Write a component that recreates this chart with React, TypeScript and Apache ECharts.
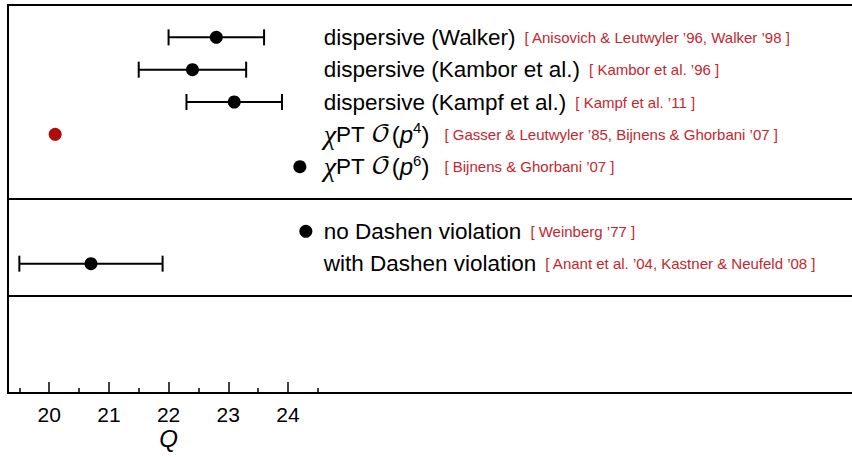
import React, { useEffect, useRef } from "react";
import * as echarts from "echarts";

// ---- data ----
const rowPositions = [1, 2, 3, 4, 5, 7, 8];
const centralValues = [22.8, 22.4, 23.1, 20.1, 24.2, 24.3, 20.7];
const lowerValues: (number | null)[] = [22.0, 21.5, 22.3, null, null, null, 19.5];
const upperValues: (number | null)[] = [23.6, 23.3, 23.9, null, null, null, 21.9];
const pointColors = ["#000", "#000", "#000", "#b00a0a", "#000", "#000", "#000"];
const mainLabels = [
  "dispersive (Walker)",
  "dispersive (Kambor et al.)",
  "dispersive (Kampf et al.)",
  "CHPT4",
  "CHPT6",
  "no Dashen violation",
  "with Dashen violation",
];
const refLabels = [
  "[ Anisovich & Leutwyler ’96, Walker ’98 ]",
  "[ Kambor et al. ’96 ]",
  "[ Kampf et al. ’11 ]",
  "[ Gasser & Leutwyler ’85, Bijnens & Ghorbani ’07 ]",
  "[ Bijnens & Ghorbani ’07 ]",
  "[ Weinberg ’77 ]",
  "[ Anant et al. ’04, Kastner & Neufeld ’08 ]",
];
const dividerRows = [6, 9];
const majorTicks = [20, 21, 22, 23, 24];
const minorTicks = [19.5, 20.5, 21.5, 22.5, 23.5, 24.5];
const axisName = "Q";
const axisNameAt = 22;

const X_MIN = 19.31;
const X_MAX = 33.45;
const LABEL_X = 24.6;
const FONT = "'Liberation Sans', Arial, Helvetica, sans-serif";

function richText(i: number): string {
  const m = mainLabels[i];
  let main: string;
  if (m === "CHPT4" || m === "CHPT6") {
    const pw = m === "CHPT4" ? "4" : "6";
    main = `{chi|χ}{b|PT }{cal|𝒪}{par|(}{p|p}{sup|${pw}}{parEnd|)}`;
  } else {
    main = `{b|${m}}`;
  }
  return `${main}{r|${refLabels[i]}}`;
}

export default function App() {
  const ref = useRef<HTMLDivElement>(null);
  useEffect(() => {
    document.body.style.margin = "0";
    const chart = echarts.init(ref.current!, null, { renderer: "svg" });
    const errData = rowPositions
      .map((r, i) => [lowerValues[i], upperValues[i], r])
      .filter((d) => d[0] !== null);
    const dotData = rowPositions.map((r, i) => ({
      value: [centralValues[i], r],
      itemStyle: { color: pointColors[i], opacity: 1 },
    }));
    const labelData = rowPositions.map((r, i) => [r, i]);
    const rich = {
      b: { fontSize: 22.5, fontFamily: FONT, fill: "#000", lineHeight: 28 },
      par: { fontSize: 24, fontFamily: FONT, fill: "#000", lineHeight: 28 },
      parEnd: { fontSize: 24, fontFamily: FONT, fill: "#000", lineHeight: 28, padding: [0, 6, 0, 0] },
      chi: { fontSize: 28, fontFamily: "'Liberation Serif', 'DejaVu Serif', serif", fontStyle: "italic", fill: "#000", lineHeight: 28 },
      cal: { fontSize: 25, fontFamily: "'DejaVu Math TeX Gyre', 'DejaVu Serif', serif", fill: "#000", lineHeight: 28, padding: [0, 1, 0, 0] },
      p: { fontSize: 24, fontFamily: FONT, fontStyle: "italic", fill: "#000", lineHeight: 28 },
      sup: { fontSize: 15, fontFamily: FONT, fill: "#000", lineHeight: 16, verticalAlign: "top" },
      r: { fontSize: 15, fontFamily: FONT, fill: "#c4262e", lineHeight: 28, padding: [0, 0, 0, 9] },
    };
    const baseAxis = {
      type: "value",
      min: X_MIN,
      max: X_MAX,
      splitLine: { show: false },
    };
    chart.setOption({
      animation: false,
      grid: { left: 8, right: 0, top: 5, bottom: 64 },
      xAxis: [
        {
          ...baseAxis,
          position: "bottom",
          axisLine: { show: true, onZero: false, lineStyle: { color: "#000", width: 2 } },
          axisTick: { show: true, inside: true, length: 11, customValues: majorTicks, lineStyle: { color: "#000", width: 1.5 } },
          axisLabel: { show: true, customValues: majorTicks, fontSize: 21, color: "#000", fontFamily: FONT, margin: 11 },
        },
        {
          ...baseAxis,
          position: "bottom",
          axisLine: { show: true, onZero: false, lineStyle: { color: "#000", width: 2 } },
          axisTick: { show: true, inside: true, length: 5, customValues: minorTicks, lineStyle: { color: "#000", width: 1.5 } },
          axisLabel: { show: false },
        },
        {
          ...baseAxis,
          position: "bottom",
          axisLine: { show: false, onZero: false },
          axisTick: { show: false },
          axisLabel: {
            show: true,
            customValues: [axisNameAt],
            formatter: () => axisName,
            fontSize: 24,
            fontStyle: "italic",
            color: "#000",
            fontFamily: FONT,
            margin: 33,
          },
        },
        {
          ...baseAxis,
          position: "top",
          axisLine: { show: true, onZero: false, lineStyle: { color: "#000", width: 2 } },
          axisTick: { show: false },
          axisLabel: { show: false },
        },
      ],
      yAxis: {
        type: "value",
        min: 0,
        max: 12,
        inverse: true,
        axisLine: { show: true, onZero: false, lineStyle: { color: "#000", width: 2 } },
        axisTick: { show: false },
        axisLabel: { show: false },
        splitLine: { show: false },
      },
      series: [
        {
          type: "custom",
          xAxisIndex: 0,
          data: errData,
          renderItem: (params: any, api: any) => {
            const lo = api.coord([api.value(0), api.value(2)]);
            const hi = api.coord([api.value(1), api.value(2)]);
            const cap = 8;
            const style = { stroke: "#000", lineWidth: 2 };
            return {
              type: "group",
              children: [
                { type: "line", shape: { x1: lo[0], y1: lo[1], x2: hi[0], y2: hi[1] }, style },
                { type: "line", shape: { x1: lo[0], y1: lo[1] - cap, x2: lo[0], y2: lo[1] + cap }, style },
                { type: "line", shape: { x1: hi[0], y1: hi[1] - cap, x2: hi[0], y2: hi[1] + cap }, style },
              ],
            };
          },
          silent: true,
        },
        {
          type: "scatter",
          xAxisIndex: 0,
          symbol: "circle",
          symbolSize: 13,
          data: dotData,
          silent: true,
          markLine: {
            silent: true,
            symbol: "none",
            label: { show: false },
            lineStyle: { color: "#000", width: 2, type: "solid" },
            data: dividerRows.map((r) => ({ yAxis: r })),
          },
        },
        {
          type: "custom",
          xAxisIndex: 0,
          data: labelData,
          silent: true,
          renderItem: (params: any, api: any) => {
            const pt = api.coord([LABEL_X, api.value(0)]);
            const i = api.value(1);
            return {
              type: "text",
              x: pt[0],
              y: pt[1],
              style: {
                text: richText(i),
                rich,
                align: "left",
                verticalAlign: "middle",
                fontFamily: FONT,
              },
            };
          },
        },
      ],
    });
    return () => chart.dispose();
  }, []);
  return <div ref={ref} style={{ width: 852, height: 457 }} />;
}
